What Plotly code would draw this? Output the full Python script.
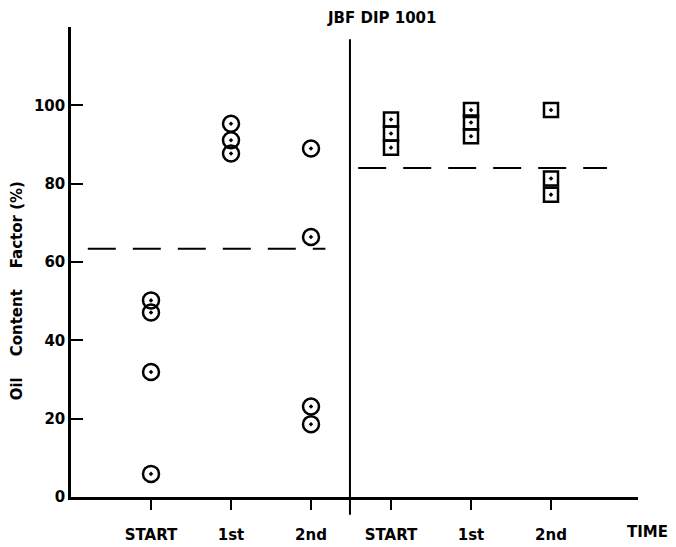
import plotly.graph_objects as go

# Sampling times along the time axis (two dips side by side)
phases = ["START", "1st", "2nd"]

# Dip 1 (circles): oil content factor, %
dip1_start = [50.2, 47.1, 31.9, 5.9]
dip1_first = [95.3, 91.1, 87.7]
dip1_second = [89.0, 66.4, 23.1, 18.6]
dip1_level = 63.4

# Dip 2 (squares): oil content factor, %
dip2_start = [96.4, 92.8, 89.2]
dip2_first = [98.8, 95.6, 92.1]
dip2_second = [98.8, 81.3, 77.2]
dip2_level = 84.0

y_ticks = [0, 20, 40, 60, 80, 100]

FONT = "DejaVu Sans"
INK = "black"

fig = go.Figure()


def add_group(pos, values, symbol, size):
    fig.add_trace(go.Scatter(
        x=[pos] * len(values), y=values, mode="markers",
        marker=dict(symbol=symbol, size=size, color=INK,
                    line=dict(color=INK, width=2.5)),
        showlegend=False, hoverinfo="y"))


for i, vals in enumerate([dip1_start, dip1_first, dip1_second]):
    add_group(i + 1, vals, "circle-open-dot", 16)
for i, vals in enumerate([dip2_start, dip2_first, dip2_second]):
    add_group(i + 4, vals, "square-open-dot", 14)

# Dashed reference levels for each dip
for x0, x1, lvl in [(0.21, 3.18, dip1_level), (3.59, 6.7, dip2_level)]:
    fig.add_trace(go.Scatter(
        x=[x0, x1], y=[lvl, lvl], mode="lines",
        line=dict(color=INK, width=2, dash="28px,17px"),
        showlegend=False, hoverinfo="skip"))

# Divider between the two dips, reaching a little below the time axis
fig.add_shape(type="line", xref="paper", yref="paper",
              x0=0.492, x1=0.492, y0=-0.038, y1=0.974,
              line=dict(color=INK, width=2))

fig.add_annotation(text="JBF DIP 1001", xref="paper", yref="paper",
                   x=0.547, y=1.02, xanchor="center", yanchor="middle",
                   showarrow=False, font=dict(family=FONT, size=15, color=INK, weight="bold"))
fig.add_annotation(text="TIME", xref="paper", yref="paper",
                   x=1.016, y=-0.075, xanchor="center", yanchor="middle",
                   showarrow=False, font=dict(family=FONT, size=15, color=INK, weight="bold"))
fig.add_annotation(text="Oil&nbsp;&nbsp;&nbsp; Content&nbsp;&nbsp;&nbsp; Factor (%)",
                   xref="paper", yref="paper",
                   x=-0.095, y=0.438, xanchor="center", yanchor="middle", textangle=-90,
                   showarrow=False, font=dict(family=FONT, size=15, color=INK, weight="bold"))

fig.update_layout(
    width=676, height=547,
    margin=dict(l=71, r=38, t=27, b=50, autoexpand=False),
    paper_bgcolor="white", plot_bgcolor="white",
    font=dict(family=FONT, color=INK),
    xaxis=dict(range=[0, 567 / 80], showline=True, linecolor=INK, linewidth=2.5,
               ticks="outside", ticklen=10, tickwidth=2, tickcolor=INK,
               tickvals=[1, 2, 3, 4, 5, 6], ticktext=phases + phases,
               tickfont=dict(family=FONT, size=15, color=INK, weight="bold"),
               ticklabelstandoff=12, automargin=False,
               showgrid=False, zeroline=False),
    yaxis=dict(range=[0, 120], showline=True, linecolor=INK, linewidth=2.5,
               ticks="inside", ticklen=12, tickwidth=2, tickcolor=INK,
               tickvals=y_ticks, automargin=False,
               tickfont=dict(family=FONT, size=15, color=INK, weight="bold"),
               showgrid=False, zeroline=False),
)

fig.write_html("out.html")
